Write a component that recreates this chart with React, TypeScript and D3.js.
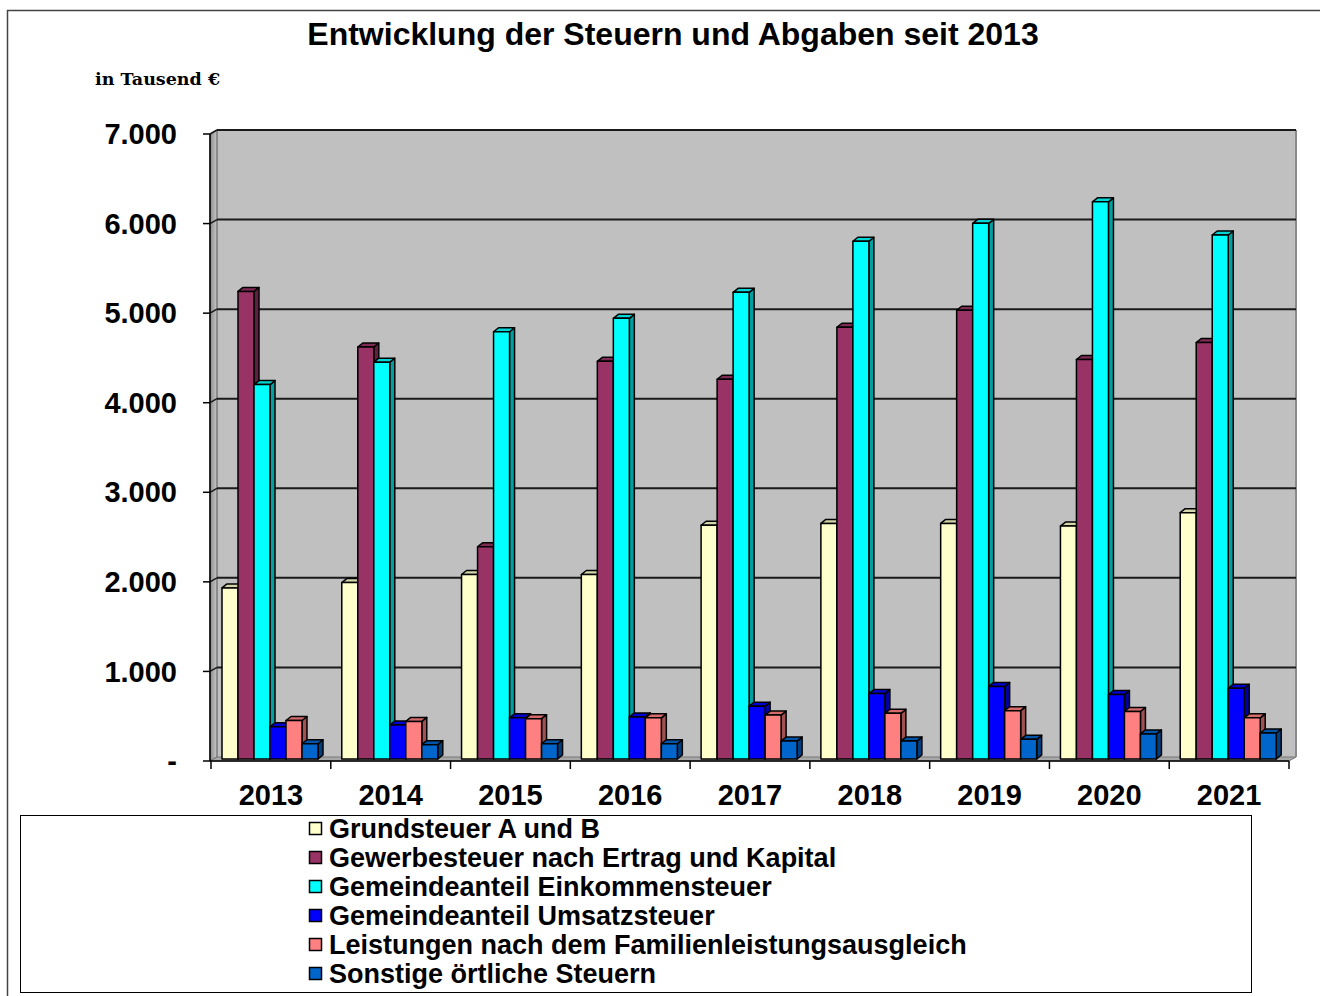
import React from 'react';
import * as d3 from 'd3';

const years = ['2013', '2014', '2015', '2016', '2017', '2018', '2019', '2020', '2021'];
const seriesNames = [
  'Grundsteuer A und B',
  'Gewerbesteuer nach Ertrag und Kapital',
  'Gemeindeanteil Einkommensteuer',
  'Gemeindeanteil Umsatzsteuer',
  'Leistungen nach dem Familienleistungsausgleich',
  'Sonstige örtliche Steuern',
];
const grundsteuer = [1910, 1970, 2060, 2060, 2610, 2630, 2630, 2600, 2750];
const gewerbesteuer = [5220, 4600, 2370, 4440, 4240, 4820, 5010, 4460, 4650];
const einkommensteuer = [4180, 4430, 4770, 4920, 5210, 5780, 5980, 6220, 5850];
const umsatzsteuer = [360, 380, 460, 470, 590, 730, 810, 720, 790];
const familienleistung = [430, 420, 450, 460, 490, 510, 540, 530, 460];
const sonstige = [170, 160, 170, 170, 200, 200, 220, 280, 290];
const yTicks = [0, 1000, 2000, 3000, 4000, 5000, 6000, 7000];
const yTickLabels = ['-', '1.000', '2.000', '3.000', '4.000', '5.000', '6.000', '7.000'];

const seriesValues = [grundsteuer, gewerbesteuer, einkommensteuer, umsatzsteuer, familienleistung, sonstige];
const colors = ['#FFFFCC', '#993366', '#00FFFF', '#0000FF', '#FF8080', '#0066CC'];

const App: React.FC = () => {
  const W = 1320;
  const H = 996;
  // 3d depth of the walls and bars
  const wdx = 7, wdy = 4;
  const bdx = 5, bdy = 4;

  const left = 210, right = 1289;
  const yFront = d3.scaleLinear().domain([0, 7000]).range([761, 134]);
  const yBack = (v: number) => yFront(v) - wdy;
  const yBar = d3.scaleLinear().domain([0, 7000]).range([759, 132]);

  const x = d3.scaleBand<string>().domain(years).range([left + 1, right]).padding(0);
  const inner = d3.scaleBand<number>().domain(d3.range(seriesNames.length)).range([11, 107]).padding(0);
  const bw = inner.bandwidth();

  const font = "'Liberation Sans', Arial, sans-serif";

  return (
    <svg width={W} height={H} style={{ position: 'absolute', left: 0, top: 0, display: 'block', background: '#fff' }}>
      <defs>
        <linearGradient id="lw" x1="0" x2="1" y1="0" y2="0">
          <stop offset="0" stopColor="#8c8c8c" />
          <stop offset="1" stopColor="#c8c8c8" />
        </linearGradient>
      </defs>
      {/* outer frame */}
      <rect x={7.5} y={10.5} width={1330} height={1000} fill="none" stroke="#444" strokeWidth={1.5} />

      <text x={673} y={45} textAnchor="middle" fontFamily={font} fontWeight="bold" fontSize={32}>
        Entwicklung der Steuern und Abgaben seit 2013
      </text>
      <text x={95} y={85} fontFamily="'DejaVu Serif', 'Liberation Serif', serif" fontWeight="bold" fontSize={17.5}>
        in Tausend €
      </text>

      {/* back wall */}
      <rect x={left + wdx} y={yBack(7000)} width={right - left} height={yBack(0) - yBack(7000)} fill="#C0C0C0" />
      {/* left wall */}
      <polygon
        points={`${left},${yFront(7000)} ${left + wdx},${yBack(7000)} ${left + wdx},${yBack(0)} ${left},${yFront(0)}`}
        fill="url(#lw)"
        stroke="#555"
        strokeWidth={1}
      />
      {/* floor */}
      <polygon
        points={`${left},${yFront(0)} ${left + wdx},${yBack(0)} ${right + wdx},${yBack(0)} ${right},${yFront(0)}`}
        fill="#a8a8a8"
        stroke="#777"
        strokeWidth={1}
      />
      {/* right edge */}
      <line x1={right + wdx} x2={right + wdx} y1={yBack(7000)} y2={yBack(0)} stroke="#8a8a8a" strokeWidth={2} />

      {/* gridlines */}
      {yTicks.filter(t => t > 0).map(t => (
        <g key={t}>
          <line x1={left + wdx} x2={right + wdx} y1={yBack(t)} y2={yBack(t)} stroke="#1a1a1a" strokeWidth={2} />
          <line x1={left} x2={left + wdx} y1={yFront(t)} y2={yBack(t)} stroke="#1a1a1a" strokeWidth={1.5} />
        </g>
      ))}

      {/* bars */}
      {years.map((yr, i) => (
        <g key={yr} transform={`translate(${x(yr)},0)`}>
          {seriesValues.map((vals, s) => {
            const bx = inner(s) as number;
            const top = yBar(vals[i]);
            const bot = yBar(0);
            const c = d3.color(colors[s])!;
            const side = c.darker(1.3).formatHex();
            const topC = c.darker(0.5).formatHex();
            return (
              <g key={s} stroke="#000" strokeWidth={1.5} strokeLinejoin="round">
                <polygon
                  points={`${bx + bw},${top} ${bx + bw + bdx},${top - bdy} ${bx + bw + bdx},${bot - bdy} ${bx + bw},${bot}`}
                  fill={side}
                />
                <polygon
                  points={`${bx},${top} ${bx + bdx},${top - bdy} ${bx + bw + bdx},${top - bdy} ${bx + bw},${top}`}
                  fill={topC}
                />
                <rect x={bx} y={top} width={bw} height={bot - top} fill={colors[s]} />
              </g>
            );
          })}
        </g>
      ))}

      {/* axes */}
      <line x1={left} x2={left} y1={yFront(7000)} y2={yFront(0)} stroke="#000" strokeWidth={1.5} />
      {yTicks.map((t, k) => (
        <g key={t}>
          <line x1={left - 7} x2={left} y1={yFront(t)} y2={yFront(t)} stroke="#000" strokeWidth={1.5} />
          <text
            x={177}
            y={yFront(t)}
            dy="0.35em"
            textAnchor="end"
            fontFamily={font}
            fontWeight="bold"
            fontSize={29}
          >
            {yTickLabels[k]}
          </text>
        </g>
      ))}
      <line x1={left} x2={right} y1={yFront(0)} y2={yFront(0)} stroke="#000" strokeWidth={1.5} />
      {[...years.map(y => x(y) as number), right].map((px, k) => (
        <line key={k} x1={px} x2={px} y1={yFront(0)} y2={yFront(0) + 8} stroke="#000" strokeWidth={1.5} />
      ))}
      {years.map(yr => (
        <text
          key={yr}
          x={(x(yr) as number) + x.bandwidth() / 2}
          y={805}
          textAnchor="middle"
          fontFamily={font}
          fontWeight="bold"
          fontSize={29}
        >
          {yr}
        </text>
      ))}

      {/* legend */}
      <rect x={20.5} y={815.5} width={1231} height={177} fill="#fff" stroke="#000" strokeWidth={1} />
      {seriesNames.map((name, s) => (
        <g key={name} transform={`translate(309, ${838 + s * 29})`}>
          <rect x={0.5} y={-15.5} width={12} height={12} fill={colors[s]} stroke="#000" strokeWidth={1.5} />
          <text x={20} y={0} fontFamily={font} fontWeight="bold" fontSize={27}>
            {name}
          </text>
        </g>
      ))}
    </svg>
  );
};

export default App;
